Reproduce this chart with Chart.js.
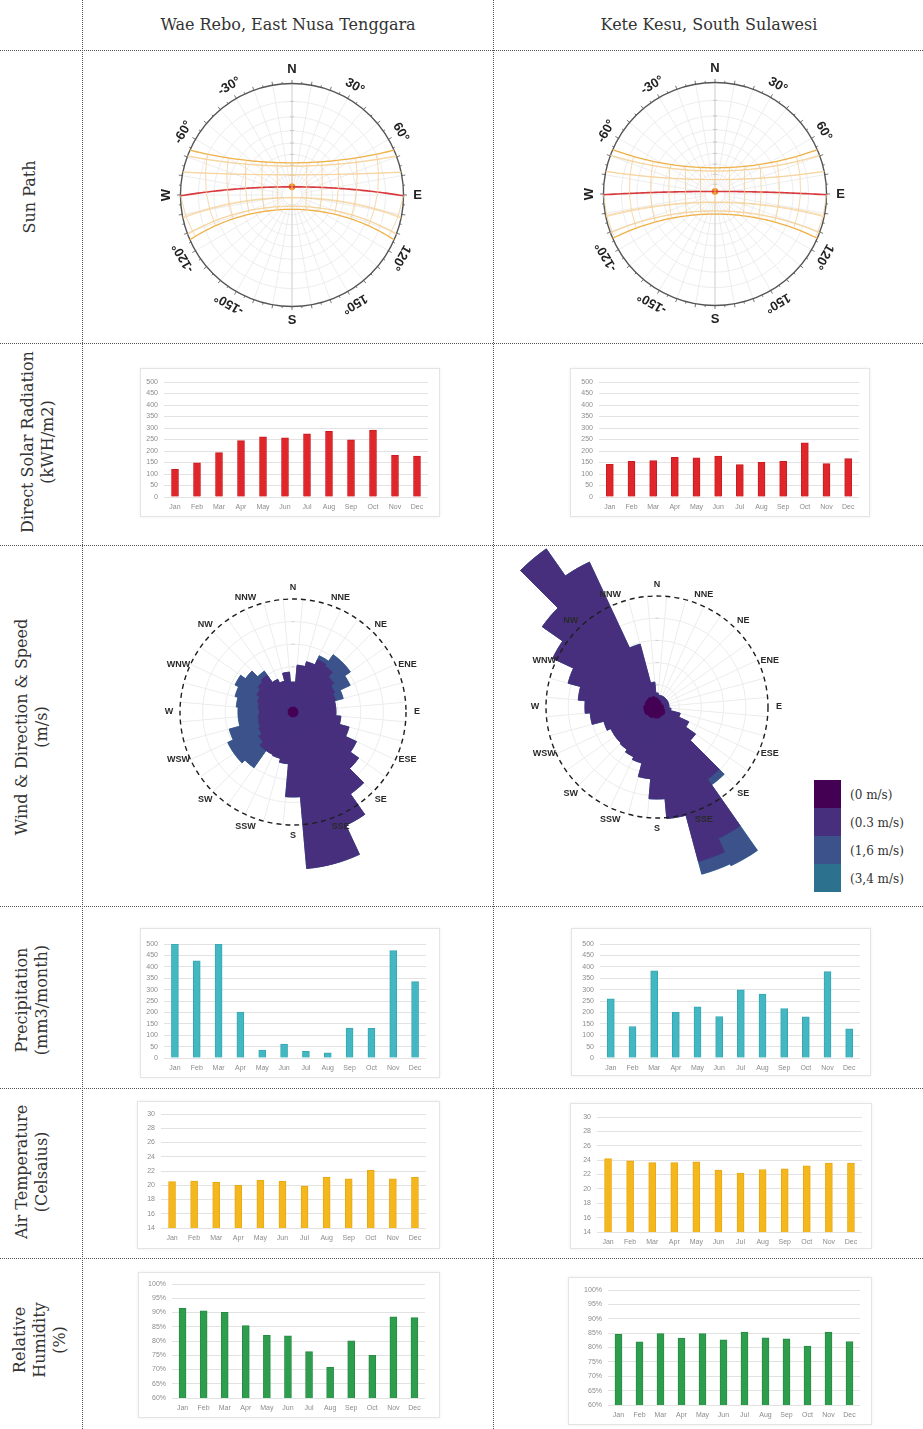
<!DOCTYPE html>
<html>
<head>
<meta charset="utf-8">
<title>Climate comparison: Wae Rebo and Kete Kesu</title>
<script src="https://cdn.jsdelivr.net/npm/chart.js@4.4.1/dist/chart.umd.min.js"></script>
<style>
  body { margin: 0; background: #fff; }
  #page { position: relative; width: 923px; height: 1429px; overflow: hidden; font-family: "DejaVu Serif", Georgia, serif; color: #333; }
  .hl { position: absolute; left: 0; width: 923px; height: 0; border-top: 1px dotted #555; }
  .vl { position: absolute; top: 0; width: 0; height: 1429px; border-left: 1px dotted #555; }
  .head { position: absolute; top: 15px; font-size: 16px; white-space: nowrap; transform: translateX(-50%); }
  .rowlab { position: absolute; white-space: nowrap; text-align: center; font-size: 16px; line-height: 20px; transform: translate(-50%, -50%) rotate(-90deg); }
  .card { position: absolute; background: #fff; border: 1px solid #e4e4e4; box-shadow: 0 0 3px rgba(0,0,0,0.07); box-sizing: border-box; }
  canvas { position: absolute; }
  .sw { position: absolute; left: 814px; width: 27px; height: 28px; }
  .lg { position: absolute; left: 850px; font-size: 12px; line-height: 14px; white-space: nowrap; }
</style>
</head>
<body>
<div id="page">
  <div class="hl" style="top:50px"></div>
  <div class="hl" style="top:343px"></div>
  <div class="hl" style="top:545px"></div>
  <div class="hl" style="top:906px"></div>
  <div class="hl" style="top:1088px"></div>
  <div class="hl" style="top:1258px"></div>
  <div class="vl" style="left:82px"></div>
  <div class="vl" style="left:493px"></div>

  <div class="head" style="left:288px">Wae Rebo, East Nusa Tenggara</div>
  <div class="head" style="left:709px">Kete Kesu, South Sulawesi</div>

  <div class="rowlab" style="left:30px;top:197px">Sun Path</div>
  <div class="rowlab" style="left:38px;top:442px">Direct Solar Radiation<br>(kWH/m2)</div>
  <div class="rowlab" style="left:32px;top:727px">Wind &amp; Direction &amp; Speed<br>(m/s)</div>
  <div class="rowlab" style="left:32px;top:1000px">Precipitation<br>(mm3/month)</div>
  <div class="rowlab" style="left:32px;top:1172px">Air Temperature<br>(Celsaius)</div>
  <div class="rowlab" style="left:40px;top:1340px">Relative<br>Humidity<br>(%)</div>

  <div class="sw" style="top:780px;background:#440154"></div>
  <div class="sw" style="top:808px;background:#472f7d"></div>
  <div class="sw" style="top:836px;background:#3b528b"></div>
  <div class="sw" style="top:864px;background:#2c728e"></div>
  <div class="lg" style="top:788px">(0 m/s)</div>
  <div class="lg" style="top:816px">(0.3 m/s)</div>
  <div class="lg" style="top:844px">(1,6 m/s)</div>
  <div class="lg" style="top:872px">(3,4 m/s)</div>
</div>

<script>
// ---------- monthly climate data ----------
const months = ['Jan','Feb','Mar','Apr','May','Jun','Jul','Aug','Sep','Oct','Nov','Dec'];

const solarWaeRebo  = [120, 149, 193, 245, 262, 257, 275, 285, 249, 291, 181, 178];
const solarKeteKesu = [142, 155, 158, 172, 170, 178, 141, 151, 155, 235, 145, 167];

const precipWaeRebo  = [500, 426, 500, 201, 35, 61, 29, 23, 131, 130, 471, 335];
const precipKeteKesu = [259, 138, 382, 201, 224, 182, 299, 280, 217, 181, 379, 128];

const tempWaeRebo  = [20.5, 20.6, 20.4, 20.0, 20.7, 20.55, 19.9, 21.1, 20.9, 22.1, 20.9, 21.1];
const tempKeteKesu = [24.2, 23.9, 23.65, 23.65, 23.75, 22.6, 22.2, 22.7, 22.8, 23.2, 23.6, 23.6];

const humidWaeRebo  = [91.5, 90.6, 90.1, 85.4, 82.0, 81.8, 76.3, 70.8, 80.1, 75.0, 88.5, 88.2];
const humidKeteKesu = [84.6, 82.0, 84.8, 83.3, 84.8, 82.7, 85.4, 83.4, 83.0, 80.5, 85.4, 82.1];

// axis ranges: [min, max, step]
const solarAxis  = [0, 500, 50];
const precipAxis = [0, 500, 50];
const tempAxis   = [14, 30, 2];
const humidAxis  = [60, 100, 5];

// ---------- sun path data ----------
const latWaeRebo  = -8.78;
const latKeteKesu = -3.03;
// solar declination on the 21st of each month (degrees)
const monthDeclination = [-20.1, -11.2, -0.4, 11.6, 20.1, 23.4, 20.4, 11.8, -0.2, -11.8, -20.4, -23.4];
const sunHours = [6, 7, 8, 9, 10, 11, 12, 13, 14, 15, 16, 17, 18];
// [text, azimuth, text rotation]
const compassRing = [['N', 0, 0], ['30°', 30, 30], ['60°', 60, 60], ['E', 90, 0], ['120°', 120, 120], ['150°', 150, 150],
                     ['S', 180, 0], ['-150°', 210, 210], ['-120°', 240, 240], ['W', 270, 270], ['-60°', 300, 300], ['-30°', 330, 330]];

// ---------- wind rose data: frequency (%) per 10° sector, N first, clockwise ----------
const windSectors = ['0','10','20','30','40','50','60','70','80','90','100','110','120','130','140','150','160','170',
                     '180','190','200','210','220','230','240','250','260','270','280','290','300','310','320','330','340','350'];
const windDirLabels = ['N','NNE','NE','ENE','E','ESE','SE','SSE','S','SSW','SW','WSW','W','WNW','NW','NNW'];
const speedBands = ['(0 m/s)', '(0.3 m/s)', '(1,6 m/s)', '(3,4 m/s)'];
const bandColors = ['#440154', '#472f7d', '#3b528b', '#2c728e'];

const windWaeReboCalm = [0.44,0.44,0.44,0.44,0.44,0.44,0.44,0.44,0.44,0.44,0.44,0.44,0.44,0.44,0.44,0.44,0.44,0.44,
                         0.44,0.44,0.44,0.44,0.44,0.44,0.44,0.44,0.44,0.44,0.44,0.44,0.44,0.44,0.44,0.44,0.44,0.44];
const windWaeReboLow  = [2.21,3.72,4.16,4.69,4.52,3.98,3.63,3.45,3.36,3.36,3.81,4.69,5.75,6.64,8.41,10.62,13.46,13.46,
                         7.08,4.16,3.81,3.72,3.72,3.28,2.92,2.75,2.66,2.56,2.66,2.83,3.10,3.36,3.54,2.75,2.39,3.10];
const windWaeReboMid  = [0,0,0,0.36,1.23,1.77,1.51,0.71,0,0,0,0,0,0,0,0,0,0,
                         0,0,0,0,1.86,2.65,3.01,2.65,1.77,1.87,1.94,2.04,2.12,1.33,0.44,0,0,0];
const windWaeReboHigh = [0,0,0,0,0,0,0,0,0,0,0,0,0,0,0,0,0,0,0,0,0,0,0,0,0,0,0,0,0,0,0,0,0,0,0,0];

const windKeteKesuCalm = [0.8,0.7,0.6,0.6,0.5,0.5,0.5,0.5,0.6,0.6,0.6,0.7,0.8,0.9,0.9,0.9,0.9,1.0,
                          1.0,1.0,1.0,1.1,1.1,1.1,1.2,1.2,1.2,1.2,1.1,1.1,1.1,1.1,1.1,1.0,1.0,0.9];
const windKeteKesuLow  = [0.46,0.38,0.48,0.48,0.58,0.58,0.58,0.58,0.48,0.48,0.66,1.46,2.35,3.33,7.03,12.16,13.51,9.09,
                          7.29,5.49,4.23,3.85,3.58,3.49,3.39,3.75,4.84,5.29,6.02,7.19,9.26,11.51,16.29,13.40,4.86,1.35];
const windKeteKesuMid  = [0,0,0,0,0,0,0,0,0,0,0,0,0,0,0.63,2.71,1.18,0,
                          0,0,0,0,0,0,0,0,0,0,0,0,0,0,0,0,0,0];
const windKeteKesuHigh = [0,0,0,0,0,0,0,0,0,0,0,0,0,0,0,0,0,0,0,0,0,0,0,0,0,0,0,0,0,0,0,0,0,0,0,0];

// ---------- helpers ----------
const page = document.getElementById('page');
Chart.defaults.font.family = '"Liberation Sans", Arial, sans-serif';
Chart.defaults.animation = false;

function addCanvas(x, y, w, h, z) {
  const c = document.createElement('canvas');
  c.width = w; c.height = h;
  c.style.left = x + 'px'; c.style.top = y + 'px';
  c.style.width = w + 'px'; c.style.height = h + 'px';
  if (z) c.style.zIndex = z;
  page.appendChild(c);
  return c;
}

// ---------- bar charts ----------
function barChart(card, area, values, axis, color, edge, suffix) {
  const box = document.createElement('div');
  box.className = 'card';
  Object.assign(box.style, { left: card.x + 'px', top: card.y + 'px', width: card.w + 'px', height: card.h + 'px' });
  page.appendChild(box);
  const cv = addCanvas(card.x, card.y, card.w, card.h);
  new Chart(cv, {
    type: 'bar',
    data: { labels: months, datasets: [{ data: values, backgroundColor: color, borderColor: edge, borderWidth: 1, barThickness: 7 }] },
    options: {
      responsive: false, devicePixelRatio: 1,
      layout: { padding: { left: 0, top: area.t - card.y, right: card.x + card.w - area.r, bottom: 0 } },
      plugins: { legend: { display: false }, tooltip: { enabled: false } },
      scales: {
        x: {
          grid: { display: false, drawTicks: false }, border: { display: false },
          ticks: { padding: 6, color: '#8c8c8c', font: { size: 7 }, autoSkip: false, maxRotation: 0 },
          afterFit(s) { s.height = card.y + card.h - area.b; }
        },
        y: {
          min: axis[0], max: axis[1],
          grid: { color: '#e2e2e2', drawTicks: false, lineWidth: 1 }, border: { display: false },
          ticks: { stepSize: axis[2], padding: 6, color: '#8c8c8c', font: { size: 7 },
                   callback: v => v + (suffix || '') },
          afterFit(s) { s.width = area.l - card.x; }
        }
      }
    }
  });
}

const RED = ['#e1262b', '#c81d22'], TEAL = ['#43b7c2', '#35a7b2'], GOLD = ['#f4b71e', '#e8a912'], GREEN = ['#2f9d4e', '#268c42'];

barChart({x:140,y:368,w:300,h:149}, {l:164,r:428,t:382,b:497}, solarWaeRebo, solarAxis, RED[0], RED[1]);
barChart({x:570,y:368,w:300,h:149}, {l:599,r:859,t:382,b:497}, solarKeteKesu, solarAxis, RED[0], RED[1]);
barChart({x:140,y:928,w:300,h:150}, {l:164,r:426,t:944,b:1058}, precipWaeRebo, precipAxis, TEAL[0], TEAL[1]);
barChart({x:571,y:928,w:300,h:148}, {l:600,r:860,t:944,b:1058}, precipKeteKesu, precipAxis, TEAL[0], TEAL[1]);
barChart({x:137,y:1101,w:303,h:148}, {l:161,r:426,t:1114,b:1228}, tempWaeRebo, tempAxis, GOLD[0], GOLD[1]);
barChart({x:570,y:1103,w:302,h:146}, {l:597,r:862,t:1117,b:1232}, tempKeteKesu, tempAxis, GOLD[0], GOLD[1]);
barChart({x:138,y:1272,w:302,h:146}, {l:172,r:425,t:1284,b:1398}, humidWaeRebo, humidAxis, GREEN[0], GREEN[1], '%');
barChart({x:568,y:1277,w:304,h:148}, {l:608,r:860,t:1290,b:1405}, humidKeteKesu, humidAxis, GREEN[0], GREEN[1], '%');

// ---------- sun path (stereographic projection, north up, east right) ----------
const rad = d => d * Math.PI / 180;
function sunPos(lat, dec, H) {
  const sinAlt = Math.sin(rad(lat)) * Math.sin(rad(dec)) + Math.cos(rad(lat)) * Math.cos(rad(dec)) * Math.cos(rad(H));
  const alt = Math.asin(Math.max(-1, Math.min(1, sinAlt)));
  const az = Math.atan2(-Math.cos(rad(dec)) * Math.sin(rad(H)),
                        Math.sin(rad(dec)) * Math.cos(rad(lat)) - Math.cos(rad(dec)) * Math.sin(rad(lat)) * Math.cos(rad(H)));
  const r = Math.tan((Math.PI / 2 - alt) / 2);
  return { x: r * Math.sin(az), y: r * Math.cos(az), alt: alt };
}
function dayPath(lat, dec) {
  const c = -Math.tan(rad(lat)) * Math.tan(rad(dec));
  const H0 = Math.acos(Math.max(-1, Math.min(1, c))) * 180 / Math.PI;
  const pts = [];
  for (let k = 0; k <= 90; k++) {
    const p = sunPos(lat, dec, -H0 + 2 * H0 * k / 90);
    pts.push({ x: p.x, y: p.y });
  }
  return pts;
}
function sunDatasets(lat) {
  const sets = [];
  const sortedDec = monthDeclination.slice().sort((a, b) => a - b);
  // hour lines
  sunHours.forEach(h => {
    const pts = sortedDec.map(d => sunPos(lat, d, 15 * (h - 12))).filter(p => p.alt >= 0).map(p => ({ x: p.x, y: p.y }));
    sets.push({ data: pts, showLine: true, pointRadius: 0, borderColor: '#f3cf98', borderWidth: 0.8 });
  });
  // monthly day paths
  monthDeclination.forEach(d => {
    const solstice = Math.abs(d) > 23;
    const equinox = Math.abs(d) < 1;
    if (equinox) return;
    sets.push({ data: dayPath(lat, d), showLine: true, pointRadius: 0,
                borderColor: solstice ? '#efb046' : '#f5cf93', borderWidth: solstice ? 1.3 : 0.8 });
  });
  // equinox path
  sets.push({ data: dayPath(lat, monthDeclination[2]), showLine: true, pointRadius: 0, borderColor: '#d9393c', borderWidth: 1.6 });
  // current sun position marker (equinox noon)
  const noon = sunPos(lat, monthDeclination[2], 0);
  sets.push({ data: [{ x: noon.x, y: noon.y }], pointRadius: 3, pointBackgroundColor: '#f08a1c', pointBorderColor: '#f08a1c' });
  return sets;
}

const sunGrid = {
  id: 'sunGrid',
  beforeDatasetsDraw(chart) {
    const { ctx, scales: { x, y } } = chart;
    const cx = x.getPixelForValue(0), cy = y.getPixelForValue(0);
    const R = x.getPixelForValue(1) - cx;
    ctx.save();
    ctx.strokeStyle = '#e9e9e9'; ctx.lineWidth = 0.8;
    for (let a = 10; a < 90; a += 10) {
      ctx.beginPath(); ctx.arc(cx, cy, Math.tan(rad(90 - a) / 2) * R, 0, 2 * Math.PI); ctx.stroke();
    }
    const r0 = Math.tan(rad(10) / 2) * R;
    for (let az = 0; az < 360; az += 10) {
      ctx.beginPath();
      ctx.moveTo(cx + r0 * Math.sin(rad(az)), cy - r0 * Math.cos(rad(az)));
      ctx.lineTo(cx + R * Math.sin(rad(az)), cy - R * Math.cos(rad(az)));
      ctx.stroke();
    }
    ctx.strokeStyle = '#d4d4d4'; ctx.lineWidth = 1;
    ctx.beginPath(); ctx.moveTo(cx, cy - R); ctx.lineTo(cx, cy + R); ctx.stroke();
    // tiny altitude ticks along the north axis
    ctx.strokeStyle = '#c8c8c8';
    for (let a = 10; a < 90; a += 10) {
      const r = Math.tan(rad(90 - a) / 2) * R;
      ctx.beginPath(); ctx.moveTo(cx - 2, cy - r); ctx.lineTo(cx + 2, cy - r); ctx.stroke();
    }
    // horizon ring with ticks
    ctx.strokeStyle = '#555'; ctx.lineWidth = 1.4;
    ctx.beginPath(); ctx.arc(cx, cy, R, 0, 2 * Math.PI); ctx.stroke();
    ctx.lineWidth = 0.8;
    for (let az = 0; az < 360; az += 5) {
      const t = az % 10 === 0 ? 3.5 : 2;
      ctx.beginPath();
      ctx.moveTo(cx + R * Math.sin(rad(az)), cy - R * Math.cos(rad(az)));
      ctx.lineTo(cx + (R + t) * Math.sin(rad(az)), cy - (R + t) * Math.cos(rad(az)));
      ctx.stroke();
    }
    ctx.restore();
  },
  afterDraw(chart) {
    const { ctx, scales: { x, y } } = chart;
    const cx = x.getPixelForValue(0), cy = y.getPixelForValue(0);
    const R = x.getPixelForValue(1) - cx;
    ctx.save();
    ctx.fillStyle = '#222';
    ctx.font = 'bold 13px "Liberation Sans", Arial, sans-serif';
    ctx.textAlign = 'center'; ctx.textBaseline = 'middle';
    compassRing.forEach(([txt, az, rot]) => {
      const rr = R + 14;
      ctx.save();
      ctx.translate(cx + rr * Math.sin(rad(az)), cy - rr * Math.cos(rad(az)));
      ctx.rotate(rad(rot));
      ctx.fillText(txt, 0, 0);
      ctx.restore();
    });
    ctx.restore();
  }
};

function sunChart(left, top, lat) {
  const cv = addCanvas(left, top, 300, 300);
  new Chart(cv, {
    type: 'scatter',
    data: { datasets: sunDatasets(lat) },
    options: {
      responsive: false, devicePixelRatio: 1,
      layout: { padding: 0 },
      plugins: { legend: { display: false }, tooltip: { enabled: false } },
      elements: { line: { tension: 0 } },
      scales: { x: { min: -1.3, max: 1.3, display: false }, y: { min: -1.3, max: 1.3, display: false } }
    },
    plugins: [sunGrid]
  });
}
sunChart(142, 45, latWaeRebo);
sunChart(565, 44, latKeteKesu);

// ---------- wind roses ----------
const roseDecor = {
  id: 'roseDecor',
  beforeDatasetsDraw(chart, args, opts) {
    const s = chart.scales.r, ctx = chart.ctx;
    const cx = s.xCenter, cy = s.yCenter, ring = s.getDistanceFromCenterForValue(opts.ring);
    ctx.save();
    ctx.strokeStyle = '#ececec'; ctx.lineWidth = 1;
    for (let k = 1; k < 5; k++) { ctx.beginPath(); ctx.arc(cx, cy, ring * k / 5, 0, 2 * Math.PI); ctx.stroke(); }
    for (let a = 5; a < 360; a += 10) {
      ctx.beginPath(); ctx.moveTo(cx, cy);
      ctx.lineTo(cx + ring * Math.sin(rad(a)), cy - ring * Math.cos(rad(a))); ctx.stroke();
    }
    ctx.strokeStyle = '#d0d0d0';
    for (let k = 1; k < 5; k++) { ctx.beginPath(); ctx.moveTo(cx - 1.5, cy - ring * k / 5); ctx.lineTo(cx + 1.5, cy - ring * k / 5); ctx.stroke(); }
    ctx.restore();
  },
  afterDatasetsDraw(chart, args, opts) {
    const s = chart.scales.r, ctx = chart.ctx;
    const cx = s.xCenter, cy = s.yCenter, ring = s.getDistanceFromCenterForValue(opts.ring);
    ctx.save();
    ctx.strokeStyle = '#1e1e1e'; ctx.lineWidth = 1.4; ctx.setLineDash([5, 4]);
    ctx.beginPath(); ctx.arc(cx, cy, ring, 0, 2 * Math.PI); ctx.stroke();
    ctx.setLineDash([]);
    ctx.fillStyle = '#2a2a2a';
    ctx.font = 'bold 9px "Liberation Sans", Arial, sans-serif';
    ctx.textAlign = 'center'; ctx.textBaseline = 'middle';
    windDirLabels.forEach((t, i) => {
      const a = rad(i * 22.5), rr = ring + opts.labelGap;
      ctx.fillText(t, cx + rr * Math.sin(a), cy - rr * Math.cos(a));
    });
    ctx.restore();
  }
};

function cumulate(bands) {
  const out = []; let run = bands[0].map(() => 0);
  bands.forEach(b => { run = run.map((v, i) => v + b[i]); out.push(run.slice()); });
  return out;
}

function windRose(cx, cy, ringPx, bands) {
  const half = 210;
  const cv = addCanvas(cx - half, cy - half, half * 2, half * 2);
  const stacked = cumulate(bands);
  const ringValue = 10; // dashed ring marks 10 %
  new Chart(cv, {
    type: 'polarArea',
    data: {
      labels: windSectors,
      datasets: stacked.map((vals, i) => ({
        label: speedBands[i], data: vals,
        backgroundColor: bandColors[i], borderColor: bandColors[i], borderWidth: 0.6
      }))
    },
    options: {
      responsive: false, devicePixelRatio: 1,
      layout: { padding: 0 },
      plugins: { legend: { display: false }, tooltip: { enabled: false },
                 roseDecor: { ring: ringValue, labelGap: 11 } },
      scales: {
        r: {
          min: 0, max: ringValue * half / ringPx, startAngle: -5,
          ticks: { display: false }, grid: { display: false },
          angleLines: { display: false }, pointLabels: { display: false }
        }
      }
    },
    plugins: [roseDecor]
  });
}
windRose(293, 712, 113, [windWaeReboCalm, windWaeReboLow, windWaeReboMid, windWaeReboHigh]);
windRose(657, 707, 111, [windKeteKesuCalm, windKeteKesuLow, windKeteKesuMid, windKeteKesuHigh]);
</script>
</body>
</html>
